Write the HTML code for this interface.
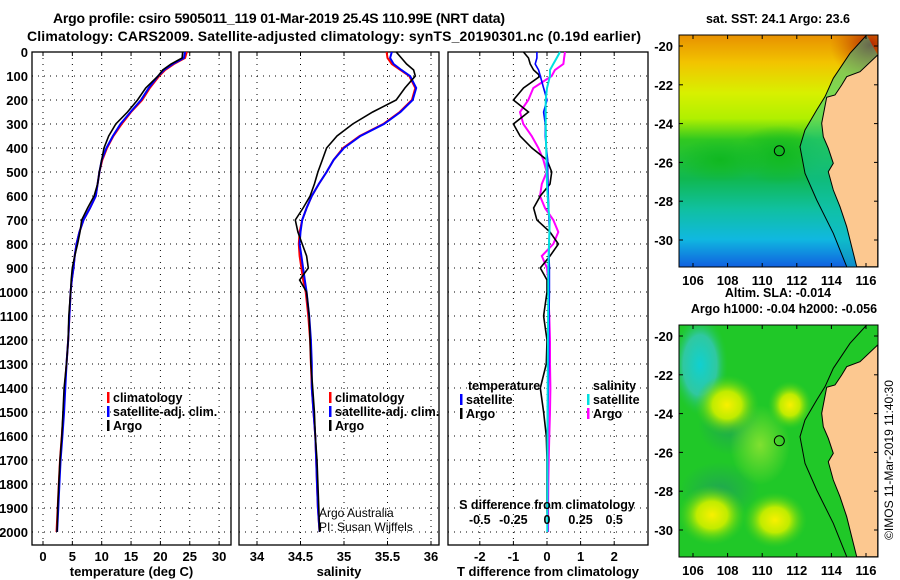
<!DOCTYPE html>
<html><head><meta charset="utf-8"><style>
html,body{margin:0;padding:0;background:#fff;}
svg{display:block;font-family:"Liberation Sans",sans-serif;font-weight:bold;}
</style></head><body>
<svg id="c" width="900" height="580" viewBox="0 0 900 580" xmlns="http://www.w3.org/2000/svg">
<defs>
<linearGradient id="sstg" x1="0" y1="0" x2="0" y2="1">
<stop offset="0" stop-color="#e89000"/><stop offset="0.12" stop-color="#f2c400"/>
<stop offset="0.25" stop-color="#d8f000"/><stop offset="0.36" stop-color="#b0f000"/>
<stop offset="0.45" stop-color="#30c820"/><stop offset="0.62" stop-color="#10b850"/>
<stop offset="0.75" stop-color="#10c0a0"/><stop offset="0.88" stop-color="#10b8e0"/>
<stop offset="1" stop-color="#1060e0"/></linearGradient>
<radialGradient id="hot"><stop offset="0" stop-color="#b02000"/><stop offset="1" stop-color="#d06000" stop-opacity="0"/></radialGradient>
<radialGradient id="yb"><stop offset="0" stop-color="#f8f000"/><stop offset="0.45" stop-color="#c0ec00"/><stop offset="1" stop-color="#40d020" stop-opacity="0"/></radialGradient>
<radialGradient id="cb"><stop offset="0" stop-color="#10d0d0"/><stop offset="0.6" stop-color="#30c8a0"/><stop offset="1" stop-color="#20c840" stop-opacity="0"/></radialGradient>
<radialGradient id="db"><stop offset="0" stop-color="#20a850"/><stop offset="1" stop-color="#20a850" stop-opacity="0"/></radialGradient>
<radialGradient id="gb"><stop offset="0" stop-color="#10b820"/><stop offset="1" stop-color="#10b820" stop-opacity="0"/></radialGradient>
<radialGradient id="lb"><stop offset="0" stop-color="#80e030"/><stop offset="1" stop-color="#80e030" stop-opacity="0"/></radialGradient>
<clipPath id="m1"><rect x="679" y="35" width="199" height="232"/></clipPath>
<clipPath id="m2"><rect x="679" y="325" width="199" height="232"/></clipPath>
</defs>
<text x="279" y="23" text-anchor="middle" font-size="14" textLength="452">Argo profile: csiro 5905011_119 01-Mar-2019 25.4S 110.99E (NRT data)</text>
<text x="334" y="41" text-anchor="middle" font-size="14" textLength="614">Climatology: CARS2009. Satellite-adjusted climatology: synTS_20190301.nc (0.19d earlier)</text>
<g id="plots"></g>
<g id="maps"></g>
<text transform="translate(893,460) rotate(-90)" text-anchor="middle" font-size="12" font-weight="normal">©IMOS 11-Mar-2019 11:40:30</text>
</svg>
<script>
const depths=[0,25,50,75,100,150,200,250,300,350,400,450,500,550,600,650,700,750,800,850,900,950,1000,1100,1200,1300,1400,1500,1600,1700,1800,1900,2000];
const tClim=[24.5,24.2,22.3,20.8,19.8,18.2,16.9,15.0,13.4,12.0,10.9,10.1,9.6,9.3,9.0,8.0,6.9,6.2,5.7,5.4,5.2,4.9,4.7,4.5,4.3,4.0,3.7,3.5,3.2,2.9,2.7,2.5,2.3];
const tSat=[24.2,24.0,22.1,20.6,19.6,18.0,16.7,14.9,13.2,11.9,10.8,10.0,9.6,9.3,9.0,8.0,6.9,6.2,5.7,5.4,5.2,4.9,4.7,4.5,4.3,4.0,3.8,3.6,3.3,3.0,2.8,2.6,2.4];
const tArgo=[23.8,23.7,21.8,20.4,19.6,17.5,16.1,14.4,12.4,11.2,10.4,10.0,9.6,9.3,8.7,7.6,6.6,6.3,5.9,5.4,5.0,4.8,4.7,4.4,4.3,4.0,3.6,3.4,3.2,2.9,2.7,2.5,2.4];
const sClim=[35.49,35.50,35.55,35.65,35.75,35.82,35.78,35.64,35.45,35.18,34.99,34.88,34.80,34.71,34.63,34.57,34.52,34.49,34.48,34.49,34.51,34.53,34.56,34.59,34.61,34.62,34.63,34.65,34.67,34.68,34.69,34.70,34.72];
const sSat=[35.55,35.53,35.57,35.66,35.76,35.83,35.79,35.65,35.46,35.19,35.00,34.88,34.80,34.71,34.63,34.57,34.52,34.50,34.49,34.51,34.53,34.55,34.57,34.60,34.62,34.63,34.63,34.65,34.67,34.68,34.69,34.70,34.72];
const sArgo=[35.60,35.66,35.72,35.80,35.82,35.70,35.60,35.33,35.10,34.92,34.80,34.75,34.70,34.66,34.61,34.53,34.44,34.47,34.52,34.57,34.59,34.49,34.57,34.60,34.61,34.62,34.64,34.66,34.67,34.69,34.70,34.71,34.72];
const dTSat=[-0.3,-0.3,-0.35,-0.25,-0.2,-0.1,0,-0.1,-0.05,-0.05,-0.02,0.02,0.02,0.03,0.04,0.05,0.06,0.07,0.06,0.06,0.07,0.07,0.07,0.06,0.05,0.05,0.04,0.03,0.02,0.02,0.02,0.02,0.02];
const dTArgo=[-0.7,-0.55,-0.5,-0.4,-0.2,-0.7,-1.0,-0.55,-1.0,-0.8,-0.45,0,0.14,0.09,-0.2,-0.4,-0.3,0.09,0.34,0.09,-0.2,0,0,-0.1,0,-0.02,-0.2,-0.1,-0.02,0,0,0,0.02];
const dSSat=[0.097,0.072,0.047,0.022,0.022,0,-0.01,-0.01,-0.01,-0.008,-0.006,-0.004,-0.002,0,0.005,0.01,0.02,0.018,0.015,0.012,0.01,0.01,0.01,0.008,0.007,0.006,0.005,0.004,0.004,0.003,0.003,0.002,0.002];
const dSArgo=[0.134,0.127,0.122,0.059,0.035,-0.102,-0.139,-0.201,-0.176,-0.114,-0.064,-0.027,-0.002,-0.039,-0.052,-0.015,0.047,0.084,0.047,-0.039,0,0.01,0.01,0.017,0.022,0.022,0.025,0.022,0.017,0.013,0.01,0.008,0.008];
const depthTicks=[0,100,200,300,400,500,600,700,800,900,1000,1100,1200,1300,1400,1500,1600,1700,1800,1900,2000];
const tTicks=[0,5,10,15,20,25,30];
const sTicks=[34,34.5,35,35.5,36];
const dTTicks=[-2,-1,0,1,2];
const dSTicks=[-0.5,-0.25,0,0.25,0.5];
const lonTicks=[106,108,110,112,114,116];
const latTicks=[-20,-22,-24,-26,-28,-30];

const NS='http://www.w3.org/2000/svg';
const P=document.getElementById('plots');
const M=document.getElementById('maps');
function mk(tag,at,parent){const e=document.createElementNS(NS,tag);for(const k in at)e.setAttribute(k,at[k]);(parent||P).appendChild(e);return e;}
const yD=d=>52+0.24*d;
const xT=t=>43+5.87*t;
const xS=s=>257+87*(s-34);
const xdT=v=>547+33.6*v;
const xdS=v=>547+134.4*v;
const TOP=52,BOT=545;

function panel(x0,x1,name,ticks,xf,xlabels,title){
  const g=mk('g',{});
  
  
  for(const d of depthTicks){const l=mk('line',{x1:x0,x2:x1,y1:yD(d),y2:yD(d),stroke:'#000','stroke-width':1,'stroke-dasharray':'1,5'},g);}
  for(const t of ticks){const l=mk('line',{x1:xf(t),x2:xf(t),y1:TOP,y2:BOT,stroke:'#000','stroke-width':1,'stroke-dasharray':'1,5'},g);
    mk('line',{x1:xf(t),x2:xf(t),y1:TOP,y2:TOP+4,stroke:'#000'},g);mk('line',{x1:xf(t),x2:xf(t),y1:BOT,y2:BOT-4,stroke:'#000'},g);
    if(xlabels){const tx=mk('text',{x:xf(t),y:561,'text-anchor':'middle','font-size':13},g);tx.textContent=String(t);}}
  const r=mk('rect',{x:x0,y:TOP,width:x1-x0,height:BOT-TOP,fill:'none',stroke:'#000','stroke-width':1.3},g);
  
  const tt=mk('text',{x:(x0+x1)/2,y:576,'text-anchor':'middle','font-size':13},g);tt.textContent=title;
  
  return g;
}
function line(xs,xf,color,name,w){
  const pts=depths.map((d,i)=>xf(xs[i]).toFixed(1)+','+yD(d).toFixed(1)).join(' ');
  const e=mk('polyline',{points:pts,fill:'none',stroke:color,'stroke-width':w||2});
  
  
}
for(const d of depthTicks){const tx=mk('text',{x:28,y:yD(d)+5,'text-anchor':'end','font-size':13});tx.textContent=String(d);
  }

panel(32,231,'temperature-panel',tTicks,xT,true,'temperature (deg C)');
line(tClim,xT,'#ff0000','temp-climatology-line');
line(tSat,xT,'#0000ff','temp-satellite-line');
line(tArgo,xT,'#000000','temp-argo-line',1.6);
panel(239,439,'salinity-panel',sTicks,xS,true,'salinity');
line(sClim,xS,'#ff0000','sal-climatology-line');
line(sSat,xS,'#0000ff','sal-satellite-line');
line(sArgo,xS,'#000000','sal-argo-line',1.6);
panel(448,648,'difference-panel',dTTicks,xdT,true,'T difference from climatology');
line(dSArgo,xdS,'#ff00ff','dS-argo-line');
line(dTArgo,xdT,'#000000','dT-argo-line',1.6);
line(dTSat,xdT,'#0000ff','dT-satellite-line',1.6);
line(dSSat,xdS,'#00e0e0','dS-satellite-line');

function legend(x,y,items,name){
  items.forEach((it,i)=>{const yy=y+i*14;
    const b=mk('rect',{x:x,y:yy-10,width:2.5,height:11,fill:it[1]});
    
    const t=mk('text',{x:x+6,y:yy,'font-size':12.5});t.textContent=it[0];
    });
}
legend(107,402,[['climatology','#ff0000'],['satellite-adj. clim.','#0000ff'],['Argo','#000']],'temp-legend');
legend(329,402,[['climatology','#ff0000'],['satellite-adj. clim.','#0000ff'],['Argo','#000']],'sal-legend');
{const t=mk('text',{x:468,y:390,'font-size':12.5});t.textContent='temperature';}
{const t=mk('text',{x:593,y:390,'font-size':12.5});t.textContent='salinity';}
legend(460,404,[['satellite','#0000ff'],['Argo','#000']],'dT-legend');
legend(587,404,[['satellite','#00e0e0'],['Argo','#ff00ff']],'dS-legend');
{const t=mk('text',{x:319,y:517,'font-size':12,'font-weight':'normal'});t.textContent='Argo Australia';
 const t2=mk('text',{x:319,y:531,'font-size':12,'font-weight':'normal'});t2.textContent='PI: Susan Wijffels';}
{const t=mk('text',{x:547,y:509,'text-anchor':'middle','font-size':12.5});t.textContent='S difference from climatology';}
for(const v of dSTicks){const t=mk('text',{x:xdS(v),y:524,'text-anchor':'middle','font-size':12.5});t.textContent=String(v);}

// maps
const coast=[[653,165],[600,215],[560,230],[545,255],[525,285],[500,292],[485,370],[490,410],[505,445],[520,490],[505,515],[520,570],[540,620],[560,680],[575,740],[590,800],[653,800]];
const shelf=[[620,105],[570,160],[520,235],[495,290],[470,330],[435,390],[420,440],[435,520],[470,600],[520,700],[560,800]];
function map(y0,name,bgFn,t1,t2){
  const g=mk('g',{},M);
  const cg=mk('g',{'clip-path':'url(#'+(y0<100?'m1':'m2')+')'},g);
  bgFn(cg,y0);
  const cv=p=>(660+p[0]/3).toFixed(1)+','+(y0-35+p[1]/3).toFixed(1);
  if(y0<100){
    const band=shelf.concat(coast.slice().reverse());
    mk('polygon',{points:band.map(cv).join(' '),fill:'#10c0b0','fill-opacity':0.45},cg);
  }
  const land=mk('polygon',{points:coast.map(cv).join(' '),fill:'#fcc890',stroke:'#000','stroke-width':1},cg);
  
  const sh=mk('polyline',{points:shelf.map(cv).join(' '),fill:'none',stroke:'#000','stroke-width':1},cg);
  
  const lx=lo=>693+(lo-106)*17.3, ly=la=>y0+11+(-20-la)*19.4;
  const c=mk('circle',{cx:lx(110.99),cy:ly(-25.4),r:5,fill:'none',stroke:'#000','stroke-width':1},g);
  
  mk('rect',{x:679,y:y0,width:199,height:232,fill:'none',stroke:'#000','stroke-width':1},g);
  for(const lo of lonTicks){mk('line',{x1:lx(lo),x2:lx(lo),y1:y0,y2:y0+4,stroke:'#000'},g);mk('line',{x1:lx(lo),x2:lx(lo),y1:y0+232,y2:y0+228,stroke:'#000'},g);
    const t=mk('text',{x:lx(lo),y:y0+250,'text-anchor':'middle','font-size':13},g);t.textContent=String(lo);}
  for(const la of latTicks){mk('line',{x1:878,x2:874,y1:ly(la),y2:ly(la),stroke:'#000'},g);mk('line',{x1:679,x2:683,y1:ly(la),y2:ly(la),stroke:'#000'},g);
    const t=mk('text',{x:673,y:ly(la)+5,'text-anchor':'end','font-size':13},g);t.textContent=String(la);}
  const a=mk('text',{x:778,y:y0-12-(t2?16:0),'text-anchor':'middle','font-size':12.5},g);a.textContent=t1;
  if(t2){const b=mk('text',{x:784,y:y0-12,'text-anchor':'middle','font-size':12.5},g);b.textContent=t2;}
}
map(35,'sst-map',(g,y0)=>{
  mk('rect',{x:679,y:y0,width:199,height:232,fill:'url(#sstg)'},g);
  mk('ellipse',{cx:870,cy:y0+10,rx:40,ry:35,fill:'url(#hot)'},g);
  mk('ellipse',{cx:780,cy:y0+120,rx:45,ry:30,fill:'url(#gb)'},g);
  mk('ellipse',{cx:720,cy:y0+125,rx:45,ry:22,fill:'url(#gb)'},g);
},'sat. SST: 24.1 Argo: 23.6');
map(325,'sla-map',(g,y0)=>{
  mk('rect',{x:679,y:y0,width:199,height:232,fill:'#20c828'},g);
  mk('ellipse',{cx:700,cy:y0+40,rx:28,ry:50,fill:'url(#cb)'},g);
  mk('ellipse',{cx:730,cy:y0+100,rx:32,ry:30,fill:'url(#db)'},g);
  mk('ellipse',{cx:720,cy:y0+165,rx:40,ry:28,fill:'url(#db)'},g);
  mk('ellipse',{cx:760,cy:y0+120,rx:30,ry:40,fill:'url(#lb)'},g);
  mk('ellipse',{cx:727,cy:y0+80,rx:32,ry:30,fill:'url(#yb)'},g);
  mk('ellipse',{cx:790,cy:y0+80,rx:22,ry:24,fill:'url(#yb)'},g);
  mk('ellipse',{cx:712,cy:y0+190,rx:34,ry:30,fill:'url(#yb)'},g);
  mk('ellipse',{cx:775,cy:y0+195,rx:32,ry:28,fill:'url(#yb)'},g);
},'Altim. SLA: -0.014','Argo h1000: -0.04 h2000: -0.056');
</script>
</body></html>
